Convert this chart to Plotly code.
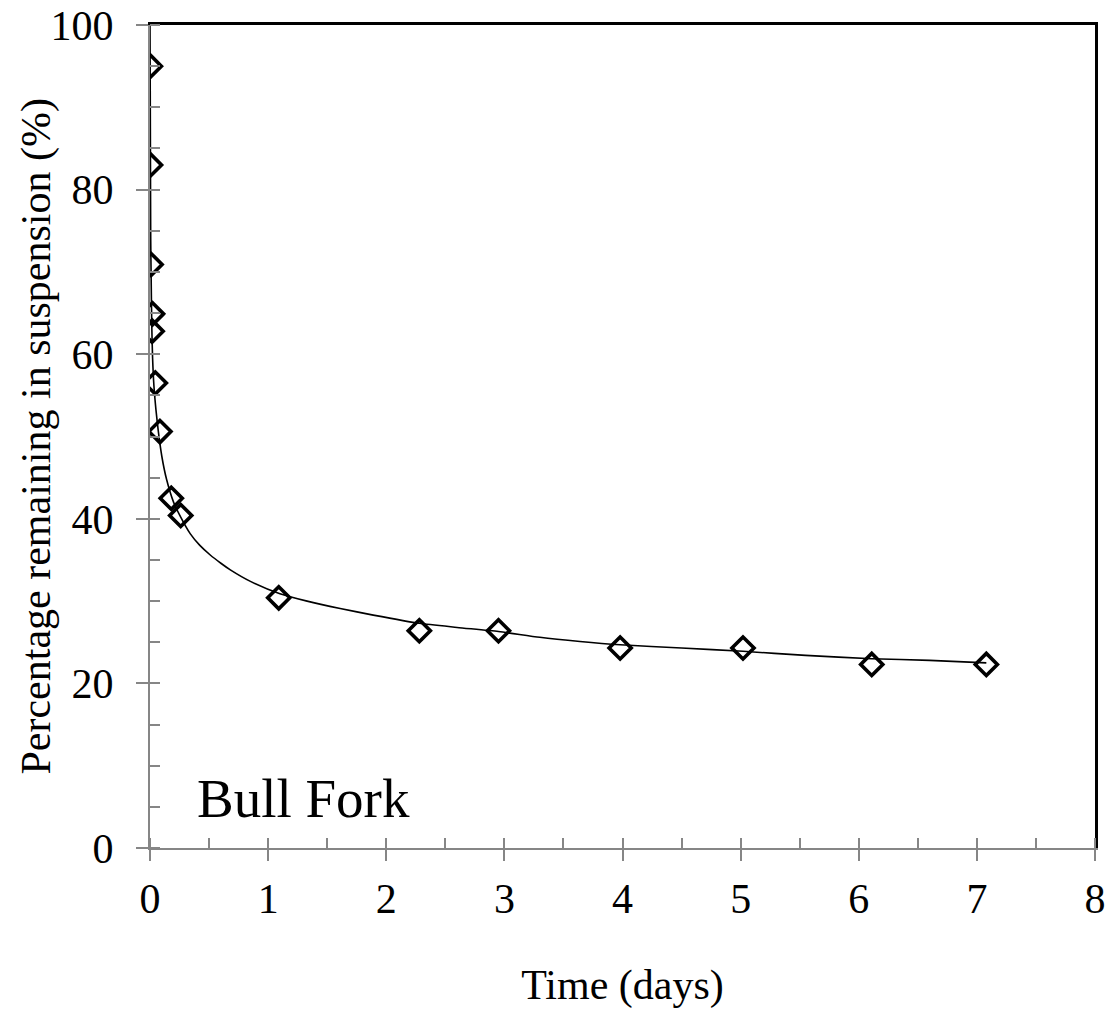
import plotly.graph_objects as go

days = [0.003, 0.004, 0.009, 0.021, 0.018, 0.045, 0.084, 0.18, 0.26,
        1.09, 2.28, 2.95, 3.98, 5.02, 6.11, 7.08]
pct = [95.0, 83.0, 70.9, 64.9, 62.8, 56.5, 50.6, 42.5, 40.4,
       30.4, 26.4, 26.4, 24.3, 24.3, 22.3, 22.3]

# Fitted curve
fit_days = [0, 0.002, 0.004, 0.006, 0.010, 0.015, 0.022, 0.033, 0.05, 0.069,
            0.10, 0.14, 0.20, 0.26, 0.34, 0.42, 0.51, 0.60, 0.68, 0.85, 1.10, 1.33,
            1.61, 1.89, 2.28, 2.60, 2.95, 3.30, 3.64, 3.98, 4.5, 5.02,
            5.55, 6.11, 6.6, 7.08]
fit_pct = [100, 92, 83, 74, 69, 63.5, 59.5, 56.2, 53.3, 50.8,
           47.6, 44.8, 42.0, 40.2, 38.2, 36.8, 35.6, 34.6, 33.8, 32.4, 30.9, 30.0,
           29.1, 28.3, 27.3, 26.8, 26.3, 25.6, 25.1, 24.7, 24.3, 23.9,
           23.4, 23.0, 22.8, 22.5]

x_ticks = [0, 1, 2, 3, 4, 5, 6, 7, 8]
y_ticks = [0, 20, 40, 60, 80, 100]

FONT = "Liberation Serif, Times New Roman, serif"
GRAY = "#868686"
FS = 42

fig = go.Figure()
fig.add_trace(go.Scatter(x=fit_days, y=fit_pct, mode="lines",
                         line=dict(color="black", width=1.6, shape="spline", smoothing=0.6),
                         showlegend=False, hoverinfo="skip"))
fig.add_trace(go.Scatter(x=days, y=pct, mode="markers",
                         marker=dict(symbol="diamond-open", size=17,
                                     color="black", line=dict(color="black", width=3.6)),
                         showlegend=False))
# invisible helpers so the overlay axes (inner ticks, top/right frame) are drawn
for xa, ya in (("x2", "y2"), ("x3", "y3")):
    fig.add_trace(go.Scatter(x=days, y=pct, mode="markers", xaxis=xa, yaxis=ya,
                             marker=dict(opacity=0), showlegend=False, hoverinfo="skip"))

common_x = dict(range=[0, 8], showgrid=False, zeroline=False, fixedrange=True, automargin=False)
common_y = dict(range=[0, 100], showgrid=False, zeroline=False, fixedrange=True, automargin=False)

fig.update_layout(
    width=1112, height=1011,
    margin=dict(l=150, r=17, t=25, b=163),
    paper_bgcolor="white", plot_bgcolor="white",
    font=dict(family=FONT, size=FS, color="black"),
    xaxis=dict(**common_x, tickvals=x_ticks, ticktext=[str(v) for v in x_ticks],
               ticks="outside", ticklen=11, tickwidth=2, tickcolor=GRAY,
               showline=True, linecolor=GRAY, linewidth=2,
               minor=dict(ticks="inside", dtick=0.5, ticklen=10, tickwidth=2, tickcolor=GRAY),
               ticklabelstandoff=2, ticklabeloverflow="allow",
               title=dict(text="Time (days)", font=dict(size=FS), standoff=48)),
    xaxis2=dict(**common_x, overlaying="x", anchor="y2", side="bottom",
                tickvals=x_ticks, ticks="inside", ticklen=10, tickwidth=2, tickcolor=GRAY,
                showticklabels=False, showline=False),
    xaxis3=dict(**common_x, overlaying="x", anchor="y3", side="top",
                showline=True, linecolor="black", linewidth=2.5, ticks="",
                showticklabels=False),
    yaxis=dict(**common_y, tickvals=y_ticks, ticktext=[str(v) for v in y_ticks],
               ticks="outside", ticklen=12, tickwidth=2, tickcolor=GRAY,
               showline=True, linecolor=GRAY, linewidth=2,
               minor=dict(ticks="inside", dtick=5, ticklen=10, tickwidth=2, tickcolor=GRAY),
               ticklabelstandoff=14, ticklabeloverflow="allow"),
    yaxis2=dict(**common_y, overlaying="y", anchor="x2", side="left",
                tickvals=y_ticks, ticks="inside", ticklen=10, tickwidth=2, tickcolor=GRAY,
                showticklabels=False, showline=False),
    yaxis3=dict(**common_y, overlaying="y", anchor="x3", side="right",
                showline=True, linecolor="black", linewidth=2.5, ticks="",
                showticklabels=False),
    annotations=[
        dict(text="Percentage remaining in suspension (%)", xref="paper", yref="paper",
             x=-0.1206, y=0.5, xanchor="center", yanchor="middle", textangle=-90,
             showarrow=False, font=dict(family=FONT, size=FS, color="black")),
        dict(text="Bull Fork", xref="paper", yref="paper",
             x=0.0476, y=0.06, xanchor="left", yanchor="middle",
             showarrow=False, font=dict(family=FONT, size=55, color="black")),
    ],
)

fig.write_html("out.html", config={"displayModeBar": False},
               post_script="document.body.style.margin='0';document.body.style.overflow='hidden';")
